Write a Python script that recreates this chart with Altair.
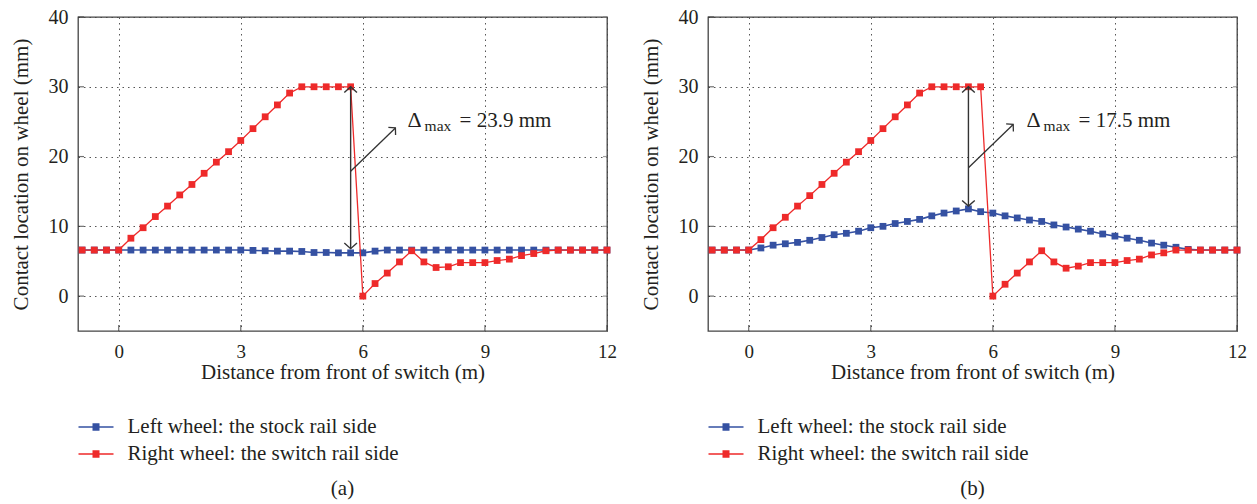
import altair as alt
import pandas as pd

# ---------------- data ----------------
distance = [-0.9, -0.6, -0.3, 0.0, 0.3, 0.6, 0.9, 1.2, 1.5, 1.8, 2.1, 2.4, 2.7, 3.0,
            3.3, 3.6, 3.9, 4.2, 4.5, 4.8, 5.1, 5.4, 5.7, 6.0, 6.3, 6.6, 6.9, 7.2,
            7.5, 7.8, 8.1, 8.4, 8.7, 9.0, 9.3, 9.6, 9.9, 10.2, 10.5, 10.8, 11.1,
            11.4, 11.7, 12.0]

left_a = [6.6, 6.6, 6.6, 6.6, 6.6, 6.6, 6.6, 6.6, 6.6, 6.6, 6.6, 6.6, 6.6, 6.6,
          6.55, 6.5, 6.45, 6.45, 6.4, 6.25, 6.25, 6.2, 6.2, 6.2, 6.45, 6.6, 6.6, 6.6,
          6.6, 6.6, 6.6, 6.6, 6.6, 6.6, 6.6, 6.6, 6.6, 6.6, 6.6, 6.6, 6.6,
          6.6, 6.6, 6.6]
right_a = [6.6, 6.6, 6.6, 6.6, 8.3, 9.8, 11.4, 12.9, 14.5, 16.0, 17.6, 19.2, 20.7, 22.3,
           24.0, 25.7, 27.4, 29.1, 30.0, 30.0, 30.0, 30.0, 30.0, 0.0, 1.8, 3.3, 4.9, 6.5,
           4.9, 4.1, 4.2, 4.8, 4.8, 4.8, 5.1, 5.3, 5.8, 6.1, 6.5, 6.6, 6.6,
           6.6, 6.6, 6.6]

left_b = [6.6, 6.6, 6.6, 6.6, 6.9, 7.3, 7.5, 7.7, 8.0, 8.4, 8.8, 9.0, 9.3, 9.8,
          10.0, 10.4, 10.7, 11.0, 11.5, 11.9, 12.2, 12.5, 12.1, 11.9, 11.5, 11.2, 10.9, 10.7,
          10.2, 9.9, 9.6, 9.3, 8.9, 8.6, 8.3, 8.0, 7.6, 7.3, 7.0, 6.7, 6.6,
          6.6, 6.6, 6.6]
right_b = [6.6, 6.6, 6.6, 6.6, 8.1, 9.8, 11.3, 12.9, 14.4, 16.0, 17.6, 19.2, 20.7, 22.3,
           24.0, 25.7, 27.4, 29.1, 30.0, 30.0, 30.0, 30.0, 30.0, 0.0, 1.7, 3.3, 4.9, 6.5,
           4.9, 4.0, 4.3, 4.8, 4.8, 4.8, 5.1, 5.3, 5.9, 6.2, 6.6, 6.6, 6.6,
           6.6, 6.6, 6.6]

series_names = ["Left wheel: the stock rail side", "Right wheel: the switch rail side"]
series_colors = ["#3551a2", "#ee2a2a"]

x_ticks = [0, 3, 6, 9, 12]
y_ticks = [0, 10, 20, 30, 40]
x_domain = [-1, 12]
y_domain = [-5, 40]

# annotations (panel a, panel b)
arrow_x = [5.7, 5.4]
arrow_top = [30.0, 30.0]
arrow_bottom = [6.8, 12.9]
diag_x0 = [5.7, 5.4]
diag_y0 = [17.9, 18.4]
diag_x1 = [6.8, 6.5]
diag_y1 = [24.1, 24.6]
label_x = [7.1, 6.83]
label_y = [24.3, 24.2]
delta_text = ["= 23.9 mm", "= 17.5 mm"]
panel_tags = ["(a)", "(b)"]

# ---------------- styling ----------------
W, H = 529, 314
FONT = "Liberation Serif"
TXT = "#231f20"
ARROW = "#333333"
HEAD = "M-1,0.9L0,0L1,0.9"
LEGEND_SYMBOL = ("M-3.5,0H3.5M-0.7,-0.6H0.7M-0.7,-0.3H0.7M-0.7,0H0.7"
                 "M-0.7,0.3H0.7M-0.7,0.6H0.7")

x_scale = alt.Scale(domain=x_domain, nice=False, zero=False)
y_scale = alt.Scale(domain=y_domain, nice=False, zero=False)
x_axis = alt.Axis(values=x_ticks, title="Distance from front of switch (m)", labelFlush=False)
y_axis = alt.Axis(values=y_ticks, title="Contact location on wheel (mm)", labelFlush=False)


def X(f):
    return alt.X(f"{f}:Q", scale=x_scale, axis=x_axis)


def Y(f):
    return alt.Y(f"{f}:Q", scale=y_scale, axis=y_axis)


def X2(f):
    return alt.X2(f"{f}:Q")


def Y2(f):
    return alt.Y2(f"{f}:Q")


def panel(i, left, right):
    n = len(distance)
    df = pd.DataFrame({
        "distance": distance + distance,
        "contact": left + right,
        "series": [series_names[0]] * n + [series_names[1]] * n,
    })
    color = alt.Color(
        "series:N",
        scale=alt.Scale(domain=series_names, range=series_colors),
        legend=alt.Legend(
            title=None, orient="none", legendX=7.5, legendY=399.5, direction="vertical",
            padding=0, symbolType=LEGEND_SYMBOL, symbolSize=100, symbolStrokeWidth=1.5,
            labelOffset=21, labelFont=FONT, labelFontSize=21, labelColor=TXT,
            rowPadding=5, labelLimit=400,
        ),
    )
    base = alt.Chart(df)
    layers = []

    # inward ticks
    yt = pd.DataFrame({"contact": y_ticks})
    xt = pd.DataFrame({"distance": x_ticks})
    layers.append(alt.Chart(yt).mark_tick(orient="horizontal", size=6, thickness=1.2,
                                          color=ARROW).encode(y=Y("contact"), x=alt.value(3)))
    layers.append(alt.Chart(yt).mark_tick(orient="horizontal", size=4, thickness=1.2,
                                          color="#777").encode(y=Y("contact"), x=alt.value(W - 2)))
    layers.append(alt.Chart(xt).mark_tick(orient="vertical", size=6, thickness=1.2,
                                          color=ARROW).encode(x=X("distance"), y=alt.value(H - 3)))

    for s, sw in zip(series_names, [1.6, 1.3]):
        sub = base.transform_filter(alt.datum.series == s)
        layers.append(sub.mark_line(strokeWidth=sw).encode(x=X("distance"), y=Y("contact"), color=color))
        layers.append(sub.mark_point(shape="square", filled=True, size=46, opacity=1)
                      .encode(x=X("distance"), y=Y("contact"), color=color))

    ann = pd.DataFrame({
        "ax": [arrow_x[i]], "atop": [arrow_top[i]], "abot": [arrow_bottom[i]],
        "dx0": [diag_x0[i]], "dy0": [diag_y0[i]], "dx1": [diag_x1[i]], "dy1": [diag_y1[i]],
        "lx": [label_x[i]], "ly": [label_y[i]], "txt": [delta_text[i]],
    })
    a = alt.Chart(ann)
    layers.append(a.mark_rule(color=ARROW, strokeWidth=1.4).encode(x=X("ax"), y=Y("atop"), y2=Y2("abot")))
    layers.append(a.mark_point(shape=HEAD, filled=False, size=160, color=ARROW, strokeWidth=1.4,
                               opacity=1).encode(x=X("ax"), y=Y("atop")))
    layers.append(a.mark_point(shape=HEAD, filled=False, size=160, color=ARROW, strokeWidth=1.4,
                               opacity=1, angle=180).encode(x=X("ax"), y=Y("abot")))
    layers.append(a.mark_rule(color=ARROW, strokeWidth=1.3).encode(
        x=X("dx0"), x2=X2("dx1"), y=Y("dy0"), y2=Y2("dy1")))
    layers.append(a.mark_point(shape=HEAD, filled=False, size=110, color=ARROW, strokeWidth=1.3,
                               opacity=1, angle=46.5).encode(x=X("dx1"), y=Y("dy1")))
    layers.append(a.mark_text(text="Δ", align="left", baseline="alphabetic", font=FONT,
                              fontSize=22, color=TXT).encode(x=X("lx"), y=Y("ly")))
    layers.append(a.mark_text(text="max", align="left", baseline="alphabetic", font=FONT,
                              fontSize=15.5, color=TXT, dx=17, dy=4).encode(x=X("lx"), y=Y("ly")))
    layers.append(a.mark_text(align="left", baseline="alphabetic", font=FONT,
                              fontSize=21, color=TXT, dx=52).encode(x=X("lx"), y=Y("ly"), text="txt:N"))

    return alt.layer(*layers).properties(
        width=W, height=H,
        title=alt.TitleParams(text=panel_tags[i], orient="bottom", anchor="middle", font=FONT,
                              fontSize=21, fontWeight="normal", color=TXT, offset=13),
    )


pa = panel(0, left_a, right_a)
pb = panel(1, left_b, right_b)

chart = (
    alt.hconcat(pa, pb, spacing=21)
    .resolve_scale(color="independent")
    .resolve_legend(color="independent")
    .properties(padding={"left": 9, "top": 6, "right": 5, "bottom": 5}, background="white")
    .configure_view(stroke="#444444", strokeWidth=1.3)
    .configure_axis(labelFont=FONT, labelFontSize=20, labelColor=TXT, titleFont=FONT,
                    titleFontSize=21, titleFontWeight="normal", titleColor=TXT,
                    domain=False, ticks=False, grid=True, gridDash=[1.5, 4],
                    gridColor="#444444", gridWidth=1, gridOpacity=0.9)
    .configure_axisX(labelPadding=11, labelFontSize=19, titlePadding=0)
    .configure_axisY(labelPadding=10, titlePadding=17)
)

chart.save("out.html", embed_options={"renderer": "svg", "actions": False})
